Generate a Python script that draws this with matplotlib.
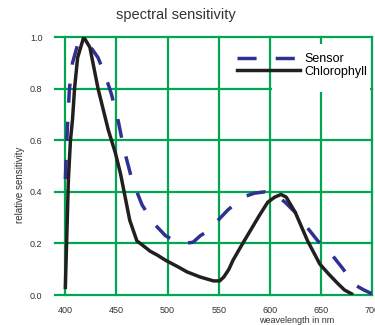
import matplotlib
matplotlib.use("Agg")
import matplotlib.pyplot as plt
from matplotlib.patches import Rectangle

# values
sensor_nm = [400, 401, 402, 404, 407, 412, 418, 425, 432, 440, 445, 452, 457, 465, 475,
             486, 498, 507, 516, 525, 532, 540, 547, 559, 574, 585, 595, 605, 615, 625,
             635, 647, 661, 671, 683, 692, 700]
sensor_val = [0.45, 0.55, 0.65, 0.80, 0.90, 0.97, 0.985, 0.96, 0.92, 0.84, 0.78, 0.67, 0.57, 0.45, 0.35,
              0.28, 0.23, 0.21, 0.20, 0.205, 0.23, 0.25, 0.28, 0.33, 0.38, 0.395, 0.40, 0.39, 0.36, 0.32,
              0.27, 0.21, 0.155, 0.105, 0.04, 0.02, 0.005]

chloro_nm = [400, 403, 405, 407, 409, 412, 418, 424, 432, 442, 449, 454, 463, 470, 475,
             483, 490, 498, 510, 519, 532, 545, 551, 555, 560, 564, 572, 581, 590, 598,
             605, 611, 616, 625, 637, 649, 658, 666, 673, 680]
chloro_val = [0.03, 0.45, 0.60, 0.68, 0.80, 0.92, 1.0, 0.96, 0.80, 0.64, 0.55, 0.47, 0.29, 0.21, 0.195,
              0.17, 0.155, 0.135, 0.11, 0.09, 0.07, 0.055, 0.055, 0.07, 0.10, 0.135, 0.19, 0.25, 0.31, 0.36,
              0.38, 0.39, 0.38, 0.32, 0.21, 0.12, 0.08, 0.047, 0.02, 0.005]

x_ticks = [400, 450, 500, 550, 600, 650, 700]
y_ticks = [0.0, 0.2, 0.4, 0.6, 0.8, 1.0]

plt.rcParams['font.family'] = ['Liberation Sans', 'DejaVu Sans']

fig = plt.figure(figsize=(3.75, 3.25), dpi=100)
ax = fig.add_axes([0.147, 0.092, 0.845, 0.794])

green = '#00a651'
ax.set_axisbelow(True)
ax.grid(True, color=green, linewidth=1.6)
for spine in ax.spines.values():
    spine.set_visible(False)

# white patch behind the legend (hides the grid there)
ax.add_patch(Rectangle((0.685, 0.787), 0.31, 0.185, transform=ax.transAxes,
                       facecolor='white', edgecolor='none', zorder=1))

ax.plot(sensor_nm, sensor_val, color='#2e3192', linewidth=2.5,
        dashes=(5.5, 5.5), label='Sensor', zorder=2)
ax.plot(chloro_nm, chloro_val, color='#231f20', linewidth=2.5,
        solid_joinstyle='round', label='Chlorophyll', zorder=3)

ax.set_xlim(390, 700)
ax.set_ylim(0, 1.0)
ax.set_xticks(x_ticks)
ax.set_yticks(y_ticks)
ax.set_xticklabels([str(v) for v in x_ticks])
ax.set_yticklabels([f'{v:.1f}' for v in y_ticks])
ax.tick_params(length=0, labelsize=6.5, colors='#333333')
ax.tick_params(axis='x', pad=8)
ax.tick_params(axis='y', pad=9)
for ln in ax.get_xgridlines() + ax.get_ygridlines():
    ln.set_clip_on(False)

leg = ax.legend(loc='upper left', bbox_to_anchor=(0.574, 0.938), frameon=False,
                fontsize=9, handlelength=5.0, handletextpad=0.4, labelspacing=0.05,
                borderpad=0, borderaxespad=0)
leg.set_zorder(5)

fig.text(0.47, 0.955, 'spectral sensitivity', ha='center', va='center', fontsize=10.5, color='#333333')
fig.text(0.053, 0.43, 'relative sensitivity', ha='center', va='center', rotation=90,
         fontsize=7, color='#333333')
fig.text(0.79, 0.015, 'weavelength in nm', ha='center', va='center', fontsize=6.5, color='#333333')

fig.savefig('out.png', dpi=100)
